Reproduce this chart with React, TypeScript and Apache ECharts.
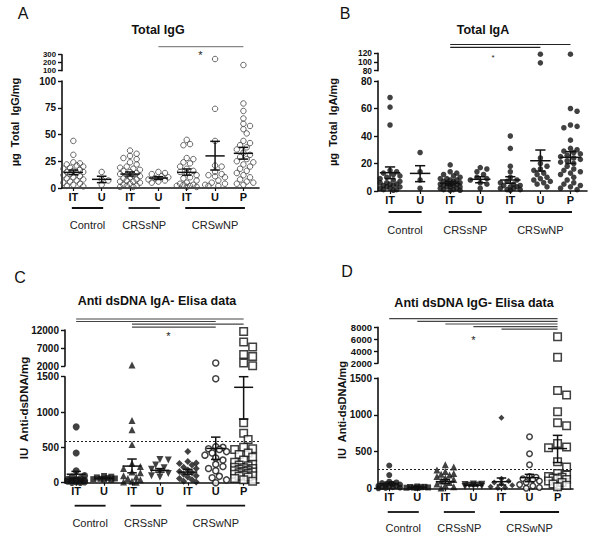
import React, { useEffect, useRef } from "react";
import * as echarts from "echarts";

const FONT = "'Liberation Sans', Arial, sans-serif";
const categories = ["IT", "U", "IT", "U", "IT", "U", "P"];
const groupNames = ["Control", "CRSsNP", "CRSwNP"];
const groupSpans = [[0, 1], [2, 3], [4, 6]];

// ---------- Panel A : Total IgG (µg/mg) ----------
const A_ctrlIT = [44, 31, 24, 23, 22, 21, 20, 19, 18, 17, 16, 15, 15, 14, 13, 12, 11, 10, 9, 8, 7, 6, 5, 4, 3, 2, 1.5];
const A_ctrlU = [15, 8, 7, 3];
const A_sIT = [35, 32, 30, 28, 27, 24, 22, 20, 19, 18, 17, 16, 15, 14, 13, 12, 12, 11, 10, 9, 8, 7, 6, 6, 5, 4, 3, 2, 2, 1, 1];
const A_sU = [15, 14, 13, 11, 10, 9, 8, 7, 6, 5];
const A_wIT = [45, 41, 40, 28, 27, 24, 23, 20, 18, 16, 15, 14, 12, 10, 9, 7, 5, 4, 3, 3, 2, 2, 1, 1];
const A_wU = [74, 44, 21, 20, 15, 13, 12, 11, 10, 7, 5, 4, 3, 2, 2];
const A_wP = [79, 72, 65, 60, 58, 55, 51, 44, 42, 40, 38, 36, 33, 31, 29, 27, 25, 24, 22, 20, 18, 16, 14, 12, 10, 8, 6, 5, 4, 3];
const A_upper = [[], [], [], [], [], [246], [171]];
const A_mean = [14.6, 8.1, 13, 9.3, 14.6, 30, 32.4];
const A_semLo = [12.5, 5, 11.2, 8, 12, 16.8, 27];
const A_semHi = [16.8, 11, 15, 10.6, 17.8, 43.6, 38];
const A_ticksLow = [0, 25, 50, 75, 100];
const A_ticksUp = [100, 200, 300];

// ---------- Panel B : Total IgA (µg/mg) ----------
const B_ctrlIT = [68, 61, 48, 15, 14, 13, 12, 11, 10, 9, 8, 7, 6, 6, 5, 5, 4, 4, 3, 3, 2, 2, 1, 1, 0.5];
const B_ctrlU = [28, 14, 8, 2];
const B_sIT = [19, 14, 13, 12, 11, 10, 9, 9, 8, 8, 7, 7, 6, 6, 5, 5, 5, 4, 4, 3, 3, 3, 2, 2, 1, 1, 0.5, 0.5];
const B_sU = [17, 16, 14, 12, 10, 9, 8, 6, 5, 2];
const B_wIT = [40, 31, 18, 14, 10, 8, 7, 6, 5, 4, 4, 3, 3, 2, 2, 1, 1, 0.5];
const B_wU = [24, 20, 18, 16, 15, 13, 12, 10, 9, 8, 7, 6, 5, 3];
const B_wP = [60, 58, 48, 47, 46, 37, 31, 30, 29, 28, 27, 26, 25, 24, 23, 22, 21, 20, 18, 16, 15, 14, 13, 12, 10, 8, 6, 5, 4, 3, 2, 1];
const B_upper = [[], [], [], [], [], [118, 98], [118]];
const B_mean = [13.3, 12.8, 5.6, 8.5, 8, 22, 24.5];
const B_semLo = [9, 6.8, 4.4, 6, 5.6, 14.5, 20];
const B_semHi = [17.5, 18.4, 6.8, 10.4, 10.4, 29.8, 28.6];
const B_ticksLow = [0, 20, 40, 60, 80];
const B_ticksUp = [80, 100, 120];

// ---------- Panel C : Anti dsDNA IgA (IU/mg) ----------
const C_ctrlIT = [790, 420, 170, 100, 80, 60, 50, 40, 35, 30, 25, 20, 15, 10, 5, 2];
const C_ctrlU = [95, 85, 75, 65, 60, 55, 50, 45, 40];
const C_sIT = [880, 750, 540, 270, 230, 200, 150, 140, 100, 80, 60, 40, 20, 10, 5];
const C_sU = [330, 320, 250, 210, 190, 160, 130, 100, 80];
const C_wIT = [440, 300, 280, 270, 250, 220, 200, 180, 160, 140, 120, 100, 80, 60, 40, 20, 10];
const C_wU = [1470, 510, 500, 480, 470, 440, 420, 390, 350, 320, 260, 230, 200, 170, 90, 70, 40, 0];
const C_wP = [850, 700, 610, 500, 480, 470, 420, 400, 360, 320, 290, 260, 250, 240, 220, 210, 200, 190, 180, 170, 160, 150, 140, 130, 120, 110, 100, 90, 80, 60, 40, 20];
const C_upper = [[], [], [2250], [], [], [2850], [11580, 8640, 7250, 5200, 4640, 2830, 2100]];
const C_mean = [120, 65, 235, 175, 150, 485, 1350];
const C_semLo = [65, 55, 140, 150, 120, 330, 900];
const C_semHi = [160, 75, 335, 200, 190, 645, 1500];
const C_ticksLow = [0, 500, 1000, 1500];
const C_ticksUp = [2000, 7000, 12000];
const C_cutoff = 590;

// ---------- Panel D : Anti dsDNA IgG (IU/mg) ----------
const D_ctrlIT = [310, 180, 90, 80, 70, 60, 50, 40, 35, 30, 25, 20, 15, 10, 5, 0];
const D_ctrlU = [25, 20, 18, 15, 12, 10, 8, 5];
const D_sIT = [320, 290, 250, 230, 200, 190, 180, 160, 140, 120, 100, 80, 60, 40, 20, 5];
const D_sU = [60, 55, 50, 45, 40, 35, 30, 25];
const D_wIT = [960, 130, 100, 80, 60, 40, 20, 10, 5];
const D_wU = [700, 470, 320, 160, 150, 130, 120, 100, 80, 50, 30, 10, 0];
const D_wP = [1330, 1270, 1040, 890, 850, 610, 560, 550, 360, 290, 200, 180, 160, 150, 140, 130, 120, 100, 80, 60, 40, 20];
const D_upper = [[], [], [], [], [], [], [6430, 3000]];
const D_mean = [65, 15, 90, 40, 90, 145, 540];
const D_semLo = [45, 10, 65, 32, 45, 90, 350];
const D_semHi = [85, 20, 120, 48, 140, 190, 720];
const D_ticksLow = [0, 500, 1000, 1500];
const D_ticksUp = [2000, 4000, 6000, 8000];
const D_cutoff = 260;

const XMIN = -0.4;
const XMAX = 6.55;

type Mk = { symbol: string; size: number; rotate?: number; hollow: boolean };

const circA: Mk = { symbol: "circle", size: 5.5, hollow: true };
const dotB: Mk = { symbol: "circle", size: 5.5, hollow: false };
const mkC: Mk[] = [
  { symbol: "circle", size: 7, hollow: false },
  { symbol: "rect", size: 6, hollow: false },
  { symbol: "triangle", size: 7, hollow: false },
  { symbol: "triangle", size: 7, rotate: 180, hollow: false },
  { symbol: "diamond", size: 7, hollow: false },
  { symbol: "circle", size: 6, hollow: true },
  { symbol: "rect", size: 7.5, hollow: true },
];
const mkD: Mk[] = [
  { symbol: "circle", size: 6, hollow: false },
  { symbol: "rect", size: 6, hollow: false },
  { symbol: "triangle", size: 7, hollow: false },
  { symbol: "triangle", size: 7, rotate: 180, hollow: false },
  { symbol: "diamond", size: 6, hollow: false },
  { symbol: "circle", size: 5.5, hollow: true },
  { symbol: "rect", size: 7.5, hollow: true },
];

const panels = [
  {
    letter: "A", letterPos: [23, 13], title: "Total IgG", titlePos: [158, 30],
    yName: "µg  Total  IgG/mg", yNamePos: [15, 122], yNameSize: 11, upLabelSize: 7.8,
    left: 62, right: 259, lowTop: 81, lowBot: 188, upTop: 54.7, upBot: 70.7,
    low: [A_ctrlIT, A_ctrlU, A_sIT, A_sU, A_wIT, A_wU, A_wP], up: A_upper,
    mean: A_mean, lo: A_semLo, hi: A_semHi, ticksLow: A_ticksLow, ticksUp: A_ticksUp,
    marks: [circA, circA, circA, circA, circA, circA, circA], color: "#444",
    sig: [[3, 6, 46.7]], sigColor: "#888", star: [4.48, 55, 11],
    underY: 208, groupY: 225, cutoff: null as number | null,
  },
  {
    letter: "B", letterPos: [345, 13], title: "Total IgA", titlePos: [483, 30],
    yName: "µg  Total  IgA/mg", yNamePos: [333, 122], yNameSize: 11, upLabelSize: 8.4,
    left: 378, right: 587, lowTop: 81, lowBot: 191, upTop: 53.3, upBot: 70.7,
    low: [B_ctrlIT, B_ctrlU, B_sIT, B_sU, B_wIT, B_wU, B_wP], up: B_upper,
    mean: B_mean, lo: B_semLo, hi: B_semHi, ticksLow: B_ticksLow, ticksUp: B_ticksUp,
    marks: [dotB, dotB, dotB, dotB, dotB, dotB, dotB], color: "#111",
    sig: [[2, 6, 44.5], [2, 5, 47.3]], sigColor: "#222", star: [3.43, 57, 8],
    underY: 212, groupY: 230, cutoff: null as number | null,
  },
  {
    letter: "C", letterPos: [20, 277], title: "Anti dsDNA IgA- Elisa data", titlePos: [157, 301],
    yName: "IU  Anti-dsDNA/mg", yNamePos: [24, 408], yNameSize: 11.5, upLabelSize: 10,
    left: 65, right: 259, lowTop: 376.7, lowBot: 482.7, upTop: 330, upBot: 366,
    low: [C_ctrlIT, C_ctrlU, C_sIT, C_sU, C_wIT, C_wU, C_wP], up: C_upper,
    mean: C_mean, lo: C_semLo, hi: C_semHi, ticksLow: C_ticksLow, ticksUp: C_ticksUp,
    marks: mkC, color: "#111",
    sig: [[0, 6, 319], [0, 5, 321.5], [2, 6, 324.2], [2, 5, 327.2]], sigColor: "#444", star: [3.3, 336, 11],
    underY: 505.7, groupY: 522.7, cutoff: C_cutoff as number | null,
  },
  {
    letter: "D", letterPos: [347, 271], title: "Anti dsDNA IgG- Elisa data", titlePos: [474, 303],
    yName: "IU  Anti-dsDNA/mg", yNamePos: [342, 410], yNameSize: 11, upLabelSize: 9.5,
    left: 378, right: 573, lowTop: 378, lowBot: 488.3, upTop: 327.3, upBot: 363.3,
    low: [D_ctrlIT, D_ctrlU, D_sIT, D_sU, D_wIT, D_wU, D_wP], up: D_upper,
    mean: D_mean, lo: D_semLo, hi: D_semHi, ticksLow: D_ticksLow, ticksUp: D_ticksUp,
    marks: mkD, color: "#111",
    sig: [[0, 6, 318.7], [1, 6, 321.3], [2, 6, 324], [3, 6, 326.6], [4, 6, 329.2]], sigColor: "#444", star: [3.0, 340, 11],
    underY: 512, groupY: 528, cutoff: D_cutoff as number | null,
  },
];

// beeswarm layout in pixel space, returns x offsets in category units
function swarm(values: number[], pxPerY: number, pxPerX: number, d: number, maxOff: number): number[] {
  const order = values.map((_, i) => i).sort((a, b) => values[b] - values[a]);
  const placed: { x: number; y: number }[] = [];
  const out: number[] = new Array(values.length).fill(0);
  const step = d * 0.6;
  for (const i of order) {
    const py = values[i] * pxPerY;
    let best = 0;
    let bestMin = -1;
    for (let k = 0; k <= 60; k++) {
      const off = k === 0 ? 0 : Math.ceil(k / 2) * step * (k % 2 === 1 ? 1 : -1);
      if (Math.abs(off) > maxOff) break;
      let minD = Infinity;
      for (const p of placed) {
        const dd = Math.hypot(p.x - off, p.y - py);
        if (dd < minD) minD = dd;
      }
      if (minD >= d * 0.95) { best = off; bestMin = minD; break; }
      if (minD > bestMin) { bestMin = minD; best = off; }
    }
    placed.push({ x: best, y: py });
    out[i] = best / pxPerX;
  }
  return out;
}

const plain = (v: number) => String(Math.round(v));

function buildOption() {
  const grid: any[] = [];
  const xAxis: any[] = [];
  const yAxis: any[] = [];
  const series: any[] = [];
  const graphic: any[] = [];
  const labelStyle = { fontFamily: FONT, fontWeight: "bold", color: "#111" };

  panels.forEach((p, pi) => {
    const lowIdx = pi * 2;
    const upIdx = pi * 2 + 1;
    const width = p.right - p.left;
    const lowMax = p.ticksLow[p.ticksLow.length - 1];
    const upMin = p.ticksUp[0];
    const upMax = p.ticksUp[p.ticksUp.length - 1];
    const pxPerX = width / (XMAX - XMIN);
    const pxLowY = (p.lowBot - p.lowTop) / lowMax;
    const pxUpY = (p.upBot - p.upTop) / (upMax - upMin);
    const catX = (i: number) => p.left + (i - XMIN) * pxPerX;

    grid.push({ left: p.left, top: p.lowTop, width, height: p.lowBot - p.lowTop });
    grid.push({ left: p.left, top: p.upTop, width, height: p.upBot - p.upTop });

    xAxis.push({
      type: "value", gridIndex: lowIdx, min: XMIN, max: XMAX,
      axisLine: { show: true, onZero: false, lineStyle: { color: "#111", width: 1.6 } },
      axisTick: { show: true, length: 3, customValues: [0, 1, 2, 3, 4, 5, 6], lineStyle: { color: "#111", width: 1.2 } },
      axisLabel: {
        customValues: [0, 1, 2, 3, 4, 5, 6], margin: 3, fontSize: 11, ...labelStyle,
        formatter: (v: number) => categories[Math.round(v)] ?? "",
      },
      splitLine: { show: false },
    });
    xAxis.push({ type: "value", gridIndex: upIdx, min: XMIN, max: XMAX, show: false, splitLine: { show: false } });

    yAxis.push({
      type: "value", gridIndex: lowIdx, min: 0, max: lowMax,
      axisLine: { show: true, onZero: false, lineStyle: { color: "#111", width: 1.6 } },
      axisTick: { show: true, length: 4, customValues: p.ticksLow, lineStyle: { color: "#111", width: 1.4 } },
      axisLabel: {
        margin: 6, fontSize: 10, ...labelStyle, customValues: p.ticksLow, formatter: plain,
        showMinLabel: true, showMaxLabel: true, hideOverlap: false,
      },
      splitLine: { show: false },
    });
    yAxis.push({
      type: "value", gridIndex: upIdx, min: upMin, max: upMax,
      axisLine: { show: true, onZero: false, lineStyle: { color: "#111", width: 1.6 } },
      axisTick: { show: true, length: 4, customValues: p.ticksUp, lineStyle: { color: "#111", width: 1.4 } },
      axisLabel: { show: false },
      splitLine: { show: false },
    });
    // upper-segment tick labels (tightly spaced, so drawn as texts at the tick values)
    p.ticksUp.forEach((v) => {
      graphic.push({
        type: "text", x: p.left - 6, y: p.upBot - (v - upMin) * pxUpY,
        style: {
          text: plain(v), fontSize: p.upLabelSize, lineHeight: p.upLabelSize, fontWeight: "bold", fontFamily: FONT, fill: "#111",
          align: "right", verticalAlign: "middle",
        },
      });
    });

    p.low.forEach((vals, gi) => {
      const mk = p.marks[gi];
      const maxOff = 0.42 * pxPerX;
      const offs = swarm(vals, pxLowY, pxPerX, mk.size, maxOff);
      const itemStyle = mk.hollow
        ? { color: pi === 0 ? "rgba(0,0,0,0)" : "#fff", borderColor: p.color, borderWidth: pi === 0 ? 1 : 1.5 }
        : { color: p.color };
      const s: any = {
        type: "scatter", xAxisIndex: lowIdx, yAxisIndex: lowIdx, clip: false,
        symbol: mk.symbol, symbolSize: mk.size, symbolRotate: mk.rotate ?? 0,
        itemStyle, silent: true, z: 2,
        data: vals.map((v, k) => [gi + offs[k], v]),
      };
      if (gi === 0 && p.cutoff != null) {
        s.markLine = {
          silent: true, symbol: "none", label: { show: false },
          lineStyle: { type: [2, 2], color: "#222", width: 1 },
          data: [{ yAxis: p.cutoff }],
        };
      }
      series.push(s);
      const upVals = p.up[gi];
      if (upVals.length) {
        const uoffs = swarm(upVals, pxUpY, pxPerX, mk.size, maxOff);
        series.push({
          type: "scatter", xAxisIndex: upIdx, yAxisIndex: upIdx, clip: false,
          symbol: mk.symbol, symbolSize: mk.size, symbolRotate: mk.rotate ?? 0,
          itemStyle, silent: true, z: 2,
          data: upVals.map((v, k) => [gi + uoffs[k], v]),
        });
      }
    });

    series.push({
      type: "custom", xAxisIndex: lowIdx, yAxisIndex: lowIdx, silent: true, z: 5,
      data: p.mean.map((m, i) => [i, m, p.lo[i], p.hi[i]]),
      renderItem: (_params: any, api: any) => {
        const x = api.value(0);
        const c = api.coord([x, api.value(1)]);
        const lo = api.coord([x, api.value(2)]);
        const hi = api.coord([x, api.value(3)]);
        const ux = api.size([1, 0])[0];
        const hw = ux * 0.34;
        const cw = ux * 0.17;
        const st = { stroke: "#111", lineWidth: 1.5 };
        return {
          type: "group",
          children: [
            { type: "line", shape: { x1: c[0] - hw, y1: c[1], x2: c[0] + hw, y2: c[1] }, style: st },
            { type: "line", shape: { x1: c[0], y1: lo[1], x2: c[0], y2: hi[1] }, style: st },
            { type: "line", shape: { x1: c[0] - cw, y1: lo[1], x2: c[0] + cw, y2: lo[1] }, style: st },
            { type: "line", shape: { x1: c[0] - cw, y1: hi[1], x2: c[0] + cw, y2: hi[1] }, style: st },
          ],
        };
      },
    });

    // annotations
    graphic.push({
      type: "text", x: p.letterPos[0], y: p.letterPos[1],
      style: { text: p.letter, fontSize: 16, fontFamily: FONT, fill: "#111", align: "center", verticalAlign: "middle" },
    });
    graphic.push({
      type: "text", x: p.titlePos[0], y: p.titlePos[1],
      style: { text: p.title, fontSize: 12.5, fontWeight: "bold", fontFamily: FONT, fill: "#111", align: "center", verticalAlign: "middle" },
    });
    graphic.push({
      type: "text", x: p.yNamePos[0], y: p.yNamePos[1], rotation: Math.PI / 2,
      style: { text: p.yName, fontSize: p.yNameSize, fontWeight: "bold", fontFamily: FONT, fill: "#111", align: "center", verticalAlign: "middle" },
    });
    groupSpans.forEach(([a, b], gi) => {
      graphic.push({
        type: "line",
        shape: { x1: catX(a) - 1.5, y1: p.underY, x2: catX(b) + 1.5, y2: p.underY },
        style: { stroke: "#111", lineWidth: 1.8 },
      });
      graphic.push({
        type: "text", x: (catX(a) + catX(b)) / 2, y: p.groupY,
        style: { text: groupNames[gi], fontSize: 11, fontFamily: FONT, fill: "#222", align: "center", verticalAlign: "middle" },
      });
    });
    p.sig.forEach(([a, b, y]) => {
      graphic.push({
        type: "line",
        shape: { x1: catX(a), y1: y, x2: catX(b), y2: y },
        style: { stroke: p.sigColor, lineWidth: 1.2 },
      });
    });
    graphic.push({
      type: "text", x: catX(p.star[0]), y: p.star[1],
      style: { text: "*", fontSize: p.star[2], fontFamily: FONT, fill: "#222", align: "center", verticalAlign: "middle" },
    });
  });

  return { animation: false, backgroundColor: "#fff", grid, xAxis, yAxis, series, graphic };
}

export default function App() {
  const ref = useRef<HTMLDivElement>(null);
  useEffect(() => {
    if (!ref.current) return;
    const chart = echarts.init(ref.current, null, { renderer: "svg" });
    chart.setOption(buildOption() as any);
    return () => chart.dispose();
  }, []);
  return <div ref={ref} style={{ position: "absolute", left: 0, top: 0, width: 600, height: 538, background: "#fff" }} />;
}
